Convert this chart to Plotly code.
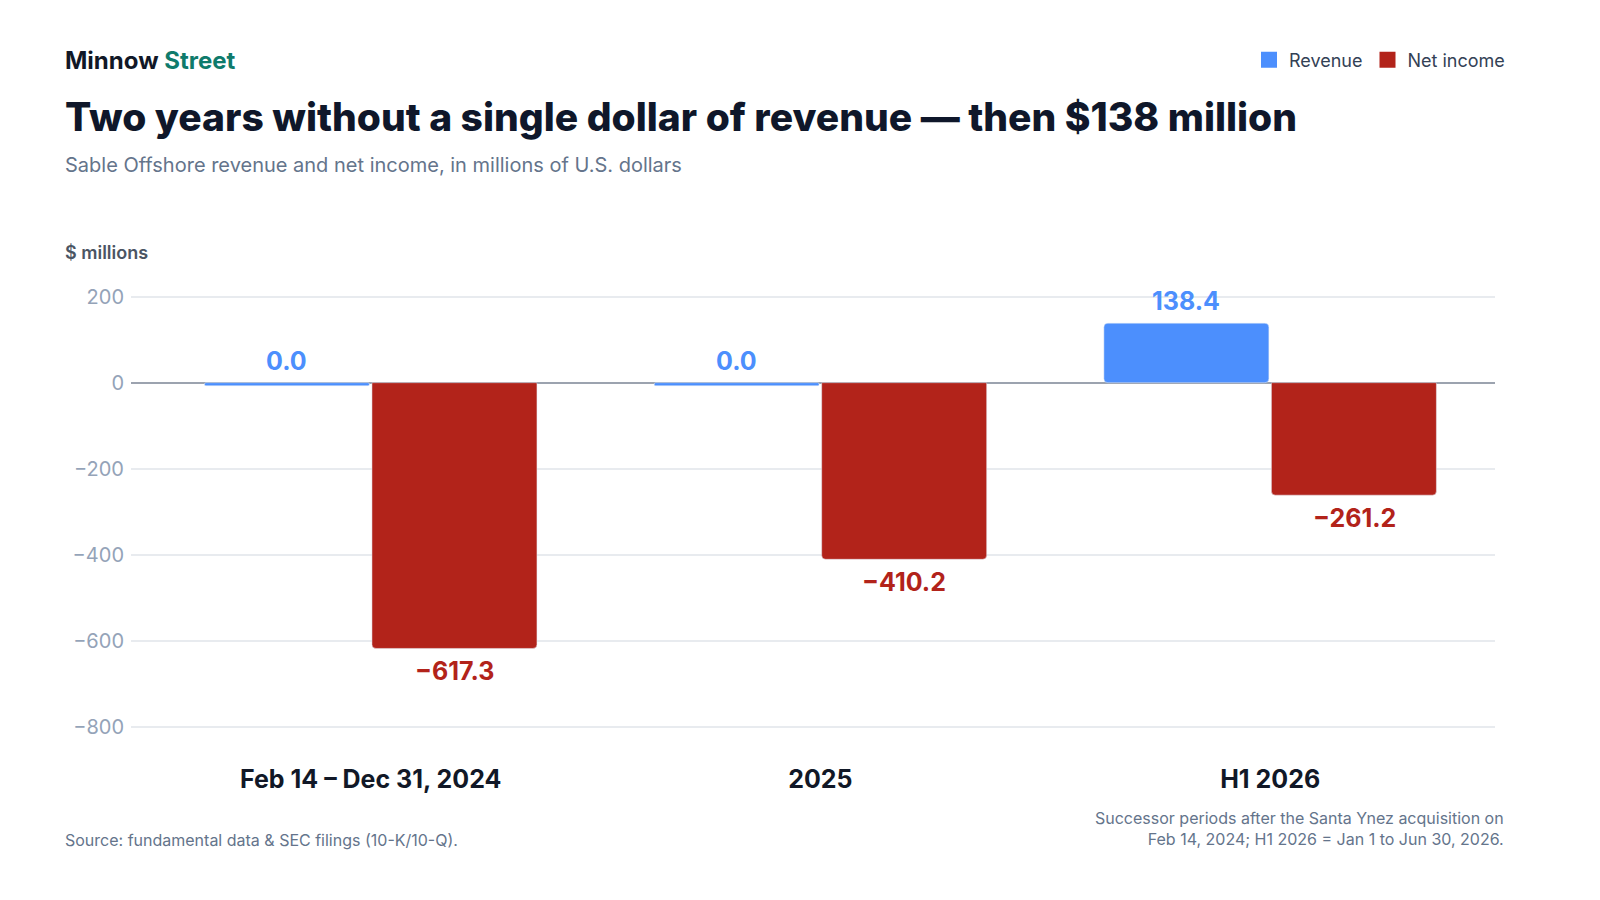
import plotly.graph_objects as go

periods = ["Feb 14 – Dec 31, 2024", "2025", "H1 2026"]
revenue = [0.0, 0.0, 138.4]
net_income = [-617.3, -410.2, -261.2]
y_ticks = [200, 0, -200, -400, -600, -800]

BLUE = "#4C8FFD"
RED = "#B2231A"
FONT = "Inter, Noto Sans, sans-serif"

W, H = 1600, 900
L, R, T, B = 131, 105, 288, 160


def fmt(v):
    # true minus sign, like the tick labels
    s = f"{abs(v):.1f}"
    return ("\u2212" + s) if v < 0 else s


def px_x(p):
    return (p - L) / (W - L - R)


def px_y(p):
    return 1 - (p - T) / (H - T - B)


# zero revenue still gets a thin stub so the bar is visible
stub = 7
rev_y = [v if v != 0 else stub for v in revenue]
rev_base = [0 if v != 0 else -stub for v in revenue]

fig = go.Figure()
fig.add_trace(go.Bar(
    x=periods, y=rev_y, base=rev_base, name="Revenue",
    marker=dict(color=BLUE), showlegend=False,
))
fig.add_trace(go.Bar(
    x=periods, y=net_income, name="Net income",
    marker=dict(color=RED), showlegend=False,
))
# legend keys: bigger squares than the bar defaults
for name, col in [("Revenue", BLUE), ("Net income", RED)]:
    fig.add_trace(go.Scatter(
        x=[None], y=[None], mode="markers", name=name,
        marker=dict(symbol="square", size=16, color=col),
    ))

# value labels, shifted onto each bar of the pair
# (category index as x: "2025" would otherwise be read as a number)
for i, v in enumerate(revenue):
    fig.add_annotation(x=i, y=v, xshift=-84, yshift=22, text=fmt(v),
                       showarrow=False, yanchor="middle",
                       font=dict(size=25, color=BLUE, weight=700))
for i, v in enumerate(net_income):
    fig.add_annotation(x=i, y=v, xshift=84, yshift=-23, text=fmt(v),
                       showarrow=False, yanchor="middle",
                       font=dict(size=25, color=RED, weight=700))

fig.update_layout(
    width=W, height=H,
    margin=dict(l=L, r=R, t=T, b=B),
    paper_bgcolor="white", plot_bgcolor="white",
    font=dict(family=FONT),
    barmode="group", bargap=0.255, bargroupgap=0.015,
    barcornerradius=4,
    showlegend=True,
    legend=dict(
        orientation="h", x=px_x(1510), xanchor="right", y=px_y(60), yanchor="middle",
        font=dict(size=18, color="#334155"), itemwidth=30,
        traceorder="normal", bgcolor="rgba(0,0,0,0)",
    ),
    xaxis=dict(
        type="category",
        range=[-0.533, 2.5], showgrid=False, showline=False, ticks="",
        tickfont=dict(size=25, color="#111827", weight=700),
        ticklabelstandoff=22,
    ),
    yaxis=dict(
        range=[-830, 220], tickvals=y_ticks,
        ticktext=[fmt(v).replace(".0", "") for v in y_ticks],
        showgrid=True, gridcolor="#E8EBEF", gridwidth=1.5,
        zeroline=True, zerolinecolor="#9CA3AF", zerolinewidth=2,
        showline=False, ticks="",
        tickfont=dict(size=20, color="#94A3B8"),
        ticklabelstandoff=6,
    ),
)

notes = [
    dict(x=px_x(63), y=px_y(61), xanchor="left",
         text="<span style='color:#111827'>Minnow</span> <span style='color:#0F7B6C'>Street</span>",
         font=dict(size=24, weight=700)),
    dict(x=px_x(63), y=px_y(116), xanchor="left",
         text="Two years without a single dollar of revenue — then $138 million",
         font=dict(size=39, color="#0F172A", weight=800)),
    dict(x=px_x(63), y=px_y(165), xanchor="left",
         text="Sable Offshore revenue and net income, in millions of U.S. dollars",
         font=dict(size=20, color="#64748B")),
    dict(x=px_x(63), y=px_y(252), xanchor="left",
         text="$ millions",
         font=dict(size=18, color="#4B5563", weight=600)),
    dict(x=px_x(63), y=px_y(840), xanchor="left",
         text="Source: fundamental data & SEC filings (10-K/10-Q).",
         font=dict(size=16, color="#64748B")),
    dict(x=px_x(1506), y=px_y(828), xanchor="right", align="right",
         text="Successor periods after the Santa Ynez acquisition on<br>Feb 14, 2024; H1 2026 = Jan 1 to Jun 30, 2026.",
         font=dict(size=16, color="#64748B")),
]
for n in notes:
    fig.add_annotation(xref="paper", yref="paper", yanchor="middle",
                       showarrow=False, **n)

# no page margin, so the 1600x900 figure fills the window exactly
fig.write_html("out.html", config={"displayModeBar": False},
               post_script="document.body.style.margin='0';document.body.style.overflow='hidden';")
